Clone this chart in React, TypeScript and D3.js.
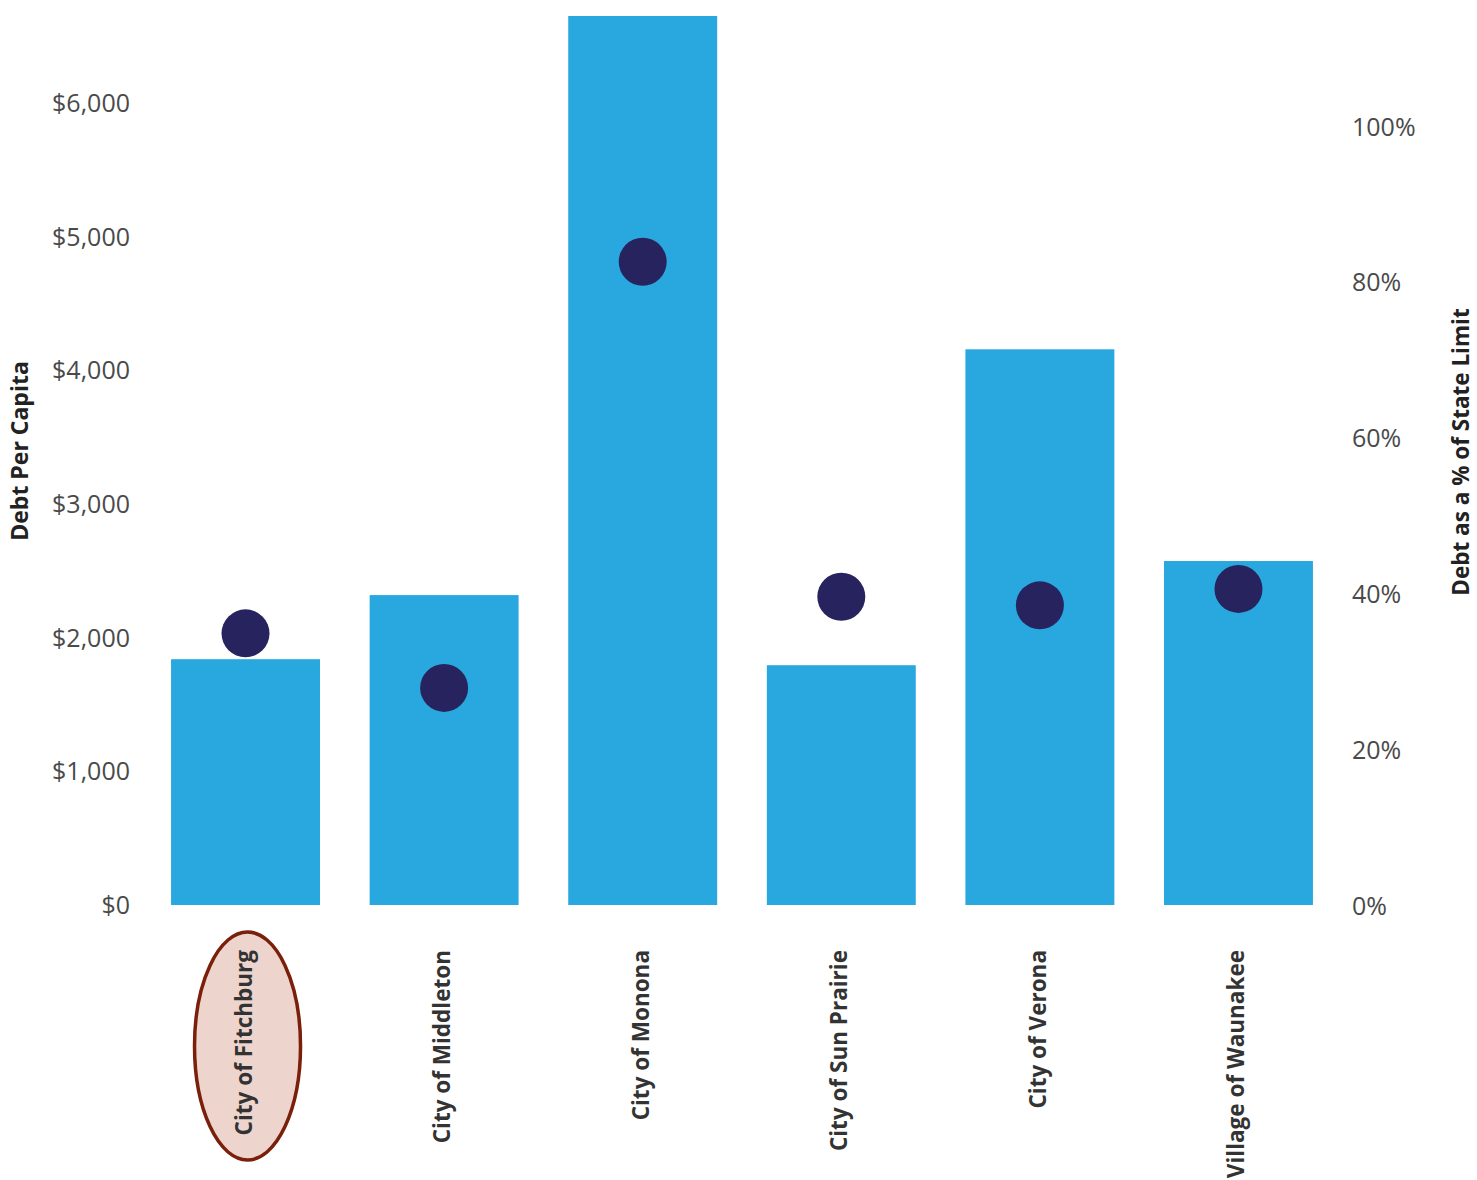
import React from 'react';
import * as d3 from 'd3';

const cities = [
  'City of Fitchburg',
  'City of Middleton',
  'City of Monona',
  'City of Sun Prairie',
  'City of Verona',
  'Village of Waunakee',
];
const debtPerCapita = [1840, 2320, 6655, 1795, 4160, 2575];
const pctOfLimit = [35.0, 28.0, 82.7, 39.7, 38.6, 40.7];
const dollarTicks = [0, 1000, 2000, 3000, 4000, 5000, 6000];
const pctTicks = [0, 20, 40, 60, 80, 100];
const highlighted = 'City of Fitchburg';

const W = 1477;
const H = 1180;
const FONT = '"Open Sans", "Noto Sans", sans-serif';

const App = () => {
  // Band scale for the municipalities
  const x = d3
    .scaleBand<string>()
    .domain(cities)
    .range([121.4, 1362.6])
    .padding(0.25);

  // Left axis: debt per capita
  const yLeft = d3.scaleLinear().domain([0, 6000]).range([905, 103.5]);
  // Right axis: percent of state limit
  const yRight = d3.scaleLinear().domain([0, 100]).range([906, 127]);

  const fmtDollar = (v: number) => '$' + d3.format(',')(v);

  return (
    <svg
      width={W}
      height={H}
      style={{ position: 'absolute', left: 0, top: 0, background: '#fff' }}
      fontFamily={FONT}
    >
      {/* bars */}
      {cities.map((c, i) => (
        <rect
          key={c}
          x={x(c)}
          y={yLeft(debtPerCapita[i])}
          width={x.bandwidth()}
          height={yLeft(0) - yLeft(debtPerCapita[i])}
          fill="#29A8DF"
        />
      ))}

      {/* dots */}
      {cities.map((c, i) => (
        <circle
          key={c}
          cx={(x(c) as number) + x.bandwidth() / 2}
          cy={yRight(pctOfLimit[i])}
          r={24}
          fill="#27235F"
        />
      ))}

      {/* left ticks */}
      {dollarTicks.map((t) => (
        <text
          key={t}
          x={130}
          y={yLeft(t) + 2}
          textAnchor="end"
          dominantBaseline="middle"
          fontSize={25}
          fill="#4a4a4a"
        >
          {fmtDollar(t)}
        </text>
      ))}

      {/* right ticks */}
      {pctTicks.map((t) => (
        <text
          key={t}
          x={1352}
          y={yRight(t) + 2}
          textAnchor="start"
          dominantBaseline="middle"
          fontSize={25}
          fill="#4a4a4a"
        >
          {t + '%'}
        </text>
      ))}

      {/* axis titles */}
      <text
        transform="translate(22,451) rotate(-90)"
        textAnchor="middle"
        dominantBaseline="middle"
        fontSize={23}
        fontWeight="bold"
        fill="#222"
      >
        Debt Per Capita
      </text>
      <text
        transform="translate(1463,452) rotate(-90)"
        textAnchor="middle"
        dominantBaseline="middle"
        fontSize={22.5}
        fontWeight="bold"
        fill="#222"
      >
        Debt as a % of State Limit
      </text>

      {/* highlight ellipse behind Fitchburg label */}
      <ellipse
        cx={(x(highlighted) as number) + x.bandwidth() / 2 + 2}
        cy={1046}
        rx={53}
        ry={114}
        fill="#EDD5CE"
        stroke="#7A1F0A"
        strokeWidth={3.5}
      />

      {/* category labels */}
      {cities.map((c) => {
        const cx = (x(c) as number) + x.bandwidth() / 2;
        return (
          <text
            key={c}
            transform={`translate(${cx},950) rotate(-90)`}
            textAnchor="end"
            dominantBaseline="middle"
            fontSize={22.5}
            fontWeight="bold"
            fill="#333"
          >
            {c}
          </text>
        );
      })}
    </svg>
  );
};

export default App;
